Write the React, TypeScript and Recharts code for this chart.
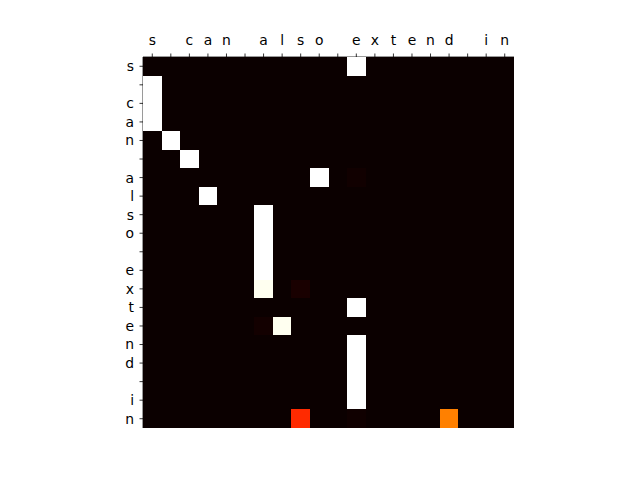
import React from "react";
import { ScatterChart, Scatter, XAxis, YAxis } from "recharts";

const tokens: string[] = ["s", " ", "c", "a", "n", " ", "a", "l", "s", "o", " ", "e", "x", "t", "e", "n", "d", " ", "i", "n"];
const tickIdx: number[] = tokens.map((_, i) => i);

// [row, col, value] of non-zero attention cells
const cells: [number, number, number][] = [
  [0, 11, 1.0],
  [1, 0, 1.0],
  [2, 0, 1.0],
  [3, 0, 1.0],
  [4, 1, 1.0],
  [5, 2, 1.0],
  [6, 9, 1.0],
  [6, 11, 0.01],
  [7, 3, 1.0],
  [8, 6, 1.0],
  [9, 6, 1.0],
  [10, 6, 1.0],
  [11, 6, 1.0],
  [12, 6, 0.985],
  [12, 8, 0.022],
  [13, 11, 1.0],
  [14, 6, 0.012],
  [14, 7, 0.985],
  [15, 11, 1.0],
  [16, 11, 1.0],
  [17, 11, 1.0],
  [18, 11, 1.0],
  [19, 8, 0.428],
  [19, 11, 0.008],
  [19, 16, 0.556],
];

const lookup = new Map<string, number>();
cells.forEach(([r, c, v]) => lookup.set(`${r}-${c}`, v));
const data = tokens.flatMap((_, r) =>
  tokens.map((__, c) => ({ x: c, y: r, v: lookup.get(`${r}-${c}`) ?? 0 }))
);

function hot(v: number): string {
  const r = v < 0.365079 ? 0.0416 + (1 - 0.0416) * (v / 0.365079) : 1;
  const g = v < 0.365079 ? 0 : v < 0.746032 ? (v - 0.365079) / (0.746032 - 0.365079) : 1;
  const b = v < 0.746032 ? 0 : (v - 0.746032) / (1 - 0.746032);
  const h = (t: number) => Math.round(Math.min(1, Math.max(0, t)) * 255);
  return `rgb(${h(r)},${h(g)},${h(b)})`;
}

const CELL = 371 / 20;

const CellShape = (props: any) => {
  const { cx, cy, payload } = props;
  return (
    <rect
      x={cx - CELL / 2}
      y={cy - CELL / 2}
      width={CELL + 0.6}
      height={CELL + 0.6}
      fill={hot(payload.v)}
      shapeRendering="crispEdges"
    />
  );
};

const font = { fontFamily: "DejaVu Sans", fontSize: 13.9, fill: "#000" };

export default function App() {
  return (
    <ScatterChart
      width={632}
      height={472}
      margin={{ top: 19, left: 95, right: 126, bottom: 52 }}
    >
      <XAxis
        type="number"
        dataKey="x"
        orientation="top"
        domain={[-0.5, 19.5]}
        ticks={tickIdx}
        tickFormatter={(i: number) => tokens[i]}
        interval={0}
        height={30}
        tickSize={3.5}
        tickMargin={9}
        tick={font}
        axisLine={{ stroke: "#000", strokeWidth: 0.8 }}
        tickLine={{ stroke: "#000", strokeWidth: 0.8 }}
        allowDataOverflow
      />
      <YAxis
        type="number"
        dataKey="y"
        reversed
        domain={[-0.5, 19.5]}
        ticks={tickIdx}
        tickFormatter={(i: number) => tokens[i]}
        interval={0}
        width={40}
        tickSize={3.5}
        tickMargin={5.5}
        tick={font}
        axisLine={{ stroke: "#000", strokeWidth: 0.8 }}
        tickLine={{ stroke: "#000", strokeWidth: 0.8 }}
        allowDataOverflow
      />
      <Scatter data={data} shape={CellShape} isAnimationActive={false} />
    </ScatterChart>
  );
}
